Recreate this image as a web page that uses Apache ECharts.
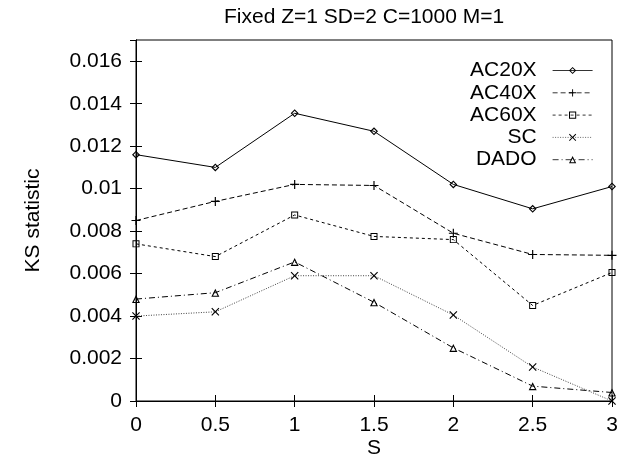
<!DOCTYPE html>
<html>
<head>
<meta charset="utf-8">
<script src="https://cdn.jsdelivr.net/npm/echarts@6/dist/echarts.min.js"></script>
<style>
  html, body { margin: 0; padding: 0; background: #fff; }
  #chart { width: 629px; height: 455px; }
</style>
</head>
<body>
<div id="chart"></div>
<script>
// S values on the x axis
const sValues = [0, 0.5, 1, 1.5, 2, 2.5, 3];

// KS statistic per method
const ac20x = [0.0116, 0.0110, 0.01355, 0.0127, 0.0102, 0.00905, 0.0101];
const ac40x = [0.0085, 0.0094, 0.0102, 0.01015, 0.0079, 0.0069, 0.00686];
const ac60x = [0.0074, 0.0068, 0.00876, 0.00775, 0.0076, 0.0045, 0.00605];
const sc    = [0.0040, 0.0042, 0.0059, 0.0059, 0.00405, 0.0016, 0.0];
const dado  = [0.0048, 0.0051, 0.00655, 0.00465, 0.0025, 0.0007, 0.0004];

const seriesNames = ['AC20X', 'AC40X', 'AC60X', 'SC', 'DADO'];
const xTickLabels = ['0', '0.5', '1', '1.5', '2', '2.5', '3'];
const yTickLabels = ['0', '0.002', '0.004', '0.006', '0.008', '0.01', '0.012', '0.014', '0.016'];

const FONT = "'Liberation Sans', Arial, Helvetica, sans-serif";

// Thin outlined point markers, drawn as filled rings so the outline stays hairline
const DIAMOND = 'path://M5,0L10,5L5,10L0,5ZM5,2L2,5L5,8L8,5Z';
const PLUS = 'path://M4.35,0H5.65V4.35H10V5.65H5.65V10H4.35V5.65H0V4.35H4.35Z';
const SQUARE = 'path://M0,0H10V10H0ZM1.4,1.4V8.6H8.6V1.4Z';
const CROSS = 'path://M0,1L1,0L5,4L9,0L10,1L6,5L10,9L9,10L5,6L1,10L0,9L4,5Z';
const TRIANGLE = 'path://M5,0L10,10L0,10ZM5,3.2L2.2,8.7L7.8,8.7Z';

const pairs = (ys) => sValues.map((x, i) => [x, ys[i]]);

function lineSeries(name, ys, dash, symbol, size, color) {
  return {
    name: name,
    type: 'line',
    data: pairs(ys),
    symbol: symbol,
    symbolSize: size,
    showAllSymbol: true,
    clip: false,
    lineStyle: { color: color || '#000', width: 1, type: dash },
    itemStyle: { color: '#000', borderWidth: 0 },
    emphasis: { disabled: true },
    animation: false
  };
}

const chart = echarts.init(document.getElementById('chart'), null, { renderer: 'canvas' });

const tickInside = { show: true, inside: true, length: 6, lineStyle: { color: '#000', width: 1 } };

chart.setOption({
  backgroundColor: '#fff',
  animation: false,
  textStyle: { fontFamily: FONT },
  title: {
    text: 'Fixed Z=1 SD=2 C=1000 M=1',
    left: 224,
    top: 7,
    padding: 0,
    textStyle: { fontFamily: FONT, fontSize: 21, fontWeight: 'normal', color: '#000' }
  },
  legend: {
    orient: 'vertical',
    right: 36,
    top: 60,
    padding: 0,
    align: 'right',
    itemWidth: 40,
    itemHeight: 9,
    itemGap: 1.3,
    data: seriesNames,
    lineStyle: { width: 0.8 },
    textStyle: { fontFamily: FONT, fontSize: 21, color: '#000', padding: [0, 11, 0, 0] },
    selectedMode: false
  },
  grid: {
    left: 136,
    right: 17,
    top: 40,
    bottom: 54,
    show: true,
    borderColor: '#000',
    borderWidth: 1,
    containLabel: false,
    outerBoundsMode: 'none'
  },
  xAxis: [
    {
      type: 'value',
      min: 0,
      max: 3,
      interval: 0.5,
      name: 'S',
      nameLocation: 'middle',
      nameGap: 37,
      nameMoveOverlap: false,
      nameTextStyle: { fontFamily: FONT, fontSize: 21, color: '#000' },
      axisLine: { show: true, lineStyle: { color: '#000', width: 1 } },
      axisTick: tickInside,
      axisLabel: {
        fontFamily: FONT, fontSize: 21, color: '#000', margin: 14,
        formatter: (v) => xTickLabels[Math.round(v / 0.5)] ?? ''
      },
      splitLine: { show: false }
    },
    {
      type: 'value',
      position: 'top',
      min: 0,
      max: 3,
      interval: 0.5,
      axisLine: { show: true, lineStyle: { color: '#000', width: 1 } },
      axisTick: tickInside,
      axisLabel: { show: false },
      splitLine: { show: false }
    }
  ],
  yAxis: [
    {
      type: 'value',
      min: 0,
      max: 0.017,
      interval: 0.002,
      name: 'KS statistic',
      nameLocation: 'middle',
      nameGap: 92,
      nameMoveOverlap: false,
      nameTextStyle: { fontFamily: FONT, fontSize: 21, color: '#000' },
      axisLine: { show: true, lineStyle: { color: '#000', width: 1 } },
      axisTick: tickInside,
      axisLabel: {
        fontFamily: FONT, fontSize: 21, color: '#000', margin: 14,
        showMaxLabel: false,
        formatter: (v) => {
          const k = Math.round(v / 0.002);
          return Math.abs(v - k * 0.002) < 1e-9 && yTickLabels[k] !== undefined ? yTickLabels[k] : '';
        }
      },
      splitLine: { show: false }
    },
    {
      type: 'value',
      position: 'right',
      min: 0,
      max: 0.017,
      interval: 0.002,
      axisLine: { show: true, lineStyle: { color: '#000', width: 1 } },
      axisTick: tickInside,
      axisLabel: { show: false },
      splitLine: { show: false }
    }
  ],
  series: [
    lineSeries('AC20X', ac20x, 'solid', DIAMOND, 8),
    lineSeries('AC40X', ac40x, [5, 3], PLUS, 9),
    lineSeries('AC60X', ac60x, [3, 3], SQUARE, 7),
    lineSeries('SC', sc, [1, 1.5], CROSS, 8, '#444'),
    lineSeries('DADO', dado, [6, 3, 1, 3], TRIANGLE, 8)
  ]
});
</script>
</body>
</html>
